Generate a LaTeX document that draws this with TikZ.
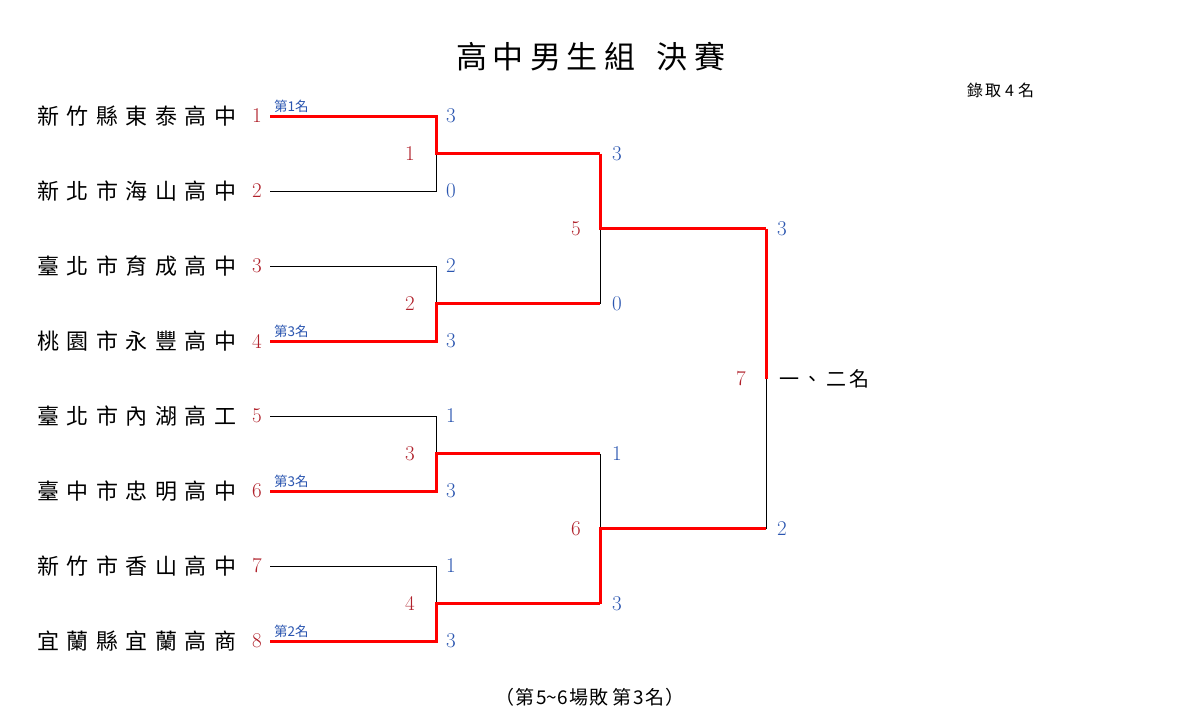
\documentclass[tikz,border=0pt]{standalone}
\usepackage{fontspec}
\newfontfamily\cjk{Noto Sans CJK TC}
\definecolor{seedred}{HTML}{B0202A}
\definecolor{scoreblue}{HTML}{2A55B0}
\makeatletter
\def\spaced#1#2{\def\spc@gap{#1}\edef\spc@txt{#2}\expandafter\spc@a\spc@txt\relax}
\def\spc@a#1{\ifx#1\relax\else#1\expandafter\spc@b\fi}
\def\spc@b#1{\ifx#1\relax\else\hskip\spc@gap#1\expandafter\spc@b\fi}
\makeatother
\tikzset{
  team/.style={anchor=west,inner sep=0pt,font=\cjk\fontsize{22}{22}\selectfont},
  seed/.style={inner sep=0pt,text=seedred,font=\fontsize{21}{21}\selectfont},
  score/.style={inner sep=0pt,text=scoreblue,font=\fontsize{21}{21}\selectfont},
  matchno/.style={inner sep=0pt,text=seedred,font=\fontsize{21}{21}\selectfont},
  rank/.style={anchor=west,inner sep=0pt,text=scoreblue,font=\cjk\fontsize{13.5}{14}\selectfont},
  win/.style={draw=red,line width=3pt},
  lose/.style={draw=black,line width=0.8pt},
}
\begin{document}
\begin{tikzpicture}[x=1pt,y=-1pt]
\useasboundingbox[fill=white] (0,0) rectangle (1180,725);
% title
\node[inner sep=0pt,font=\cjk\fontsize{31}{31}\selectfont] (title) at (591,57)
  {\spaced{6pt}{高中男生組}\hskip22pt\spaced{7pt}{決賽}};
\node[anchor=west,inner sep=0pt,font=\cjk\fontsize{16}{16}\selectfont] (quota) at (967,90)
  {\spaced{2pt}{錄取}\hskip4pt4\hskip4pt名};
\node[inner sep=0pt,font=\cjk\fontsize{19}{19}\selectfont] (foot) at (590,697)
  {（\hskip1pt\spaced{1.5pt}{第5}\textasciitilde\spaced{1.5pt}{6場敗}\hskip4pt\spaced{1.5pt}{第3名}\hskip1pt）};
% teams
\foreach \i/\y/\name in {1/116/新竹縣東泰高中,2/191/新北市海山高中,3/266/臺北市育成高中,4/341/桃園市永豐高中,
                         5/416/臺北市內湖高工,6/491/臺中市忠明高中,7/566/新竹市香山高中,8/641/宜蘭縣宜蘭高商}{
  \node[team] (n\i) at (37,\y) {\spaced{7.5pt}{\name}};
  \node[seed] (s\i) at (257,\y) {\i};
  \coordinate (a\i) at (270,\y);
  \coordinate (b\i) at (436,\y);
}
% match points
\coordinate (m1) at (436,153.5); \coordinate (c1) at (600,153.5);
\coordinate (m2) at (436,303.5); \coordinate (c2) at (600,303.5);
\coordinate (m3) at (436,453.5); \coordinate (c3) at (600,453.5);
\coordinate (m4) at (436,603.5); \coordinate (c4) at (600,603.5);
\coordinate (m5) at (600,228.5); \coordinate (d5) at (766,228.5);
\coordinate (m6) at (600,528.5); \coordinate (d6) at (766,528.5);
\coordinate (m7) at (766,378.5);
% losing paths
\draw[lose] (a2) -- (b2) -- (m1);
\draw[lose] (a3) -- (b3) -- (m2);
\draw[lose] (a5) -- (b5) -- (m3);
\draw[lose] (a7) -- (b7) -- (m4);
\draw[lose] (c2) -- (m5);
\draw[lose] (c3) -- (m6);
\draw[lose] (d6) -- (m7);
% winning paths
\draw[win] (a1) -- (b1) -- (m1) -- (c1);
\draw[win] (a4) -- (b4) -- (m2) -- (c2);
\draw[win] (a6) -- (b6) -- (m3) -- (c3);
\draw[win] (a8) -- (b8) -- (m4) -- (c4);
\draw[win] (c1) -- (m5) -- (d5);
\draw[win] (c4) -- (m6) -- (d6);
\draw[win] (d5) -- (m7);
% match numbers
\node[matchno] (k1) at (410,153.5) {1};
\node[matchno] (k2) at (410,303.5) {2};
\node[matchno] (k3) at (410,453.5) {3};
\node[matchno] (k4) at (410,603.5) {4};
\node[matchno] (k5) at (576,228.5) {5};
\node[matchno] (k6) at (576,528.5) {6};
\node[matchno] (k7) at (741,378.5) {7};
% scores
\node[score] (r1) at (451,116) {3};
\node[score] (r2) at (451,191) {0};
\node[score] (r3) at (451,266) {2};
\node[score] (r4) at (451,341) {3};
\node[score] (r5) at (451,416) {1};
\node[score] (r6) at (451,491) {3};
\node[score] (r7) at (451,566) {1};
\node[score] (r8) at (451,641) {3};
\node[score] (q1) at (617,153.5) {3};
\node[score] (q2) at (617,303.5) {0};
\node[score] (q3) at (617,453.5) {1};
\node[score] (q4) at (617,603.5) {3};
\node[score] (f1) at (782,228.5) {3};
\node[score] (f2) at (782,528.5) {2};
% final label
\node[anchor=west,inner sep=0pt,font=\cjk\fontsize{20}{20}\selectfont] (champ) at (779,378.5)
  {\spaced{3.5pt}{一、二名}};
% rank labels
\node[rank] (p1) at (274,106) {第1名};
\node[rank] (p4) at (274,331) {第3名};
\node[rank] (p6) at (274,481) {第3名};
\node[rank] (p8) at (274,631) {第2名};
\end{tikzpicture}
\end{document}
